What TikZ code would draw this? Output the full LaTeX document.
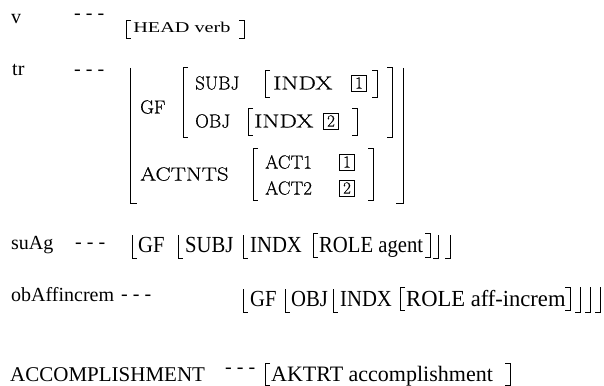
\documentclass[tikz,border=0pt]{standalone}
\usepackage{fontspec}
\setmainfont{Liberation Serif}
\newfontfamily\cmfont[FakeBold=0.5]{Latin Modern Roman}
% bracket pieces: x, top y, bottom y
\newcommand\avmL[3]{\draw[brk] (#1+5,#2) -- (#1,#2) -- (#1,#3) -- (#1+5,#3);}
\newcommand\avmR[3]{\draw[brk] (#1-5,#2) -- (#1,#2) -- (#1,#3) -- (#1-5,#3);}
\newcommand\avmLh[3]{\draw[brk] (#1,#2) -- (#1,#3) -- (#1+5,#3);}
\newcommand\avmRh[3]{\draw[brk] (#1,#2) -- (#1,#3) -- (#1-5,#3);}
\begin{document}
\begin{tikzpicture}[x=1pt,y=-1pt,
  lbl/.style={anchor=base west,inner sep=0pt,font=\fontsize{20}{24}\selectfont},
  avm/.style={anchor=base west,inner sep=0pt,font=\fontsize{23}{27}\selectfont,xscale=0.9,transform shape},
  cmtext/.style={anchor=west,inner sep=0pt,font=\cmfont\fontsize{19}{22}\selectfont},
  wide/.style={xscale=#1,transform shape},
  brk/.style={line width=0.8pt},
  tag/.style={draw,line width=0.7pt,inner sep=0pt,minimum width=15pt,minimum height=16pt,font=\cmfont\fontsize{17}{19}\selectfont}
]
\useasboundingbox (0,0) rectangle (604,385);

% v
\node[lbl] (v) at (11,24) {v};
\node[lbl] (d1) at (74,20) {- - -};
\avmL{126}{20}{38}
\node[lbl,font=\fontsize{15}{18}\selectfont,xscale=1.35,transform shape] (head) at (133,33) {HEAD verb};
\avmR{244}{20}{38}

% tr
\node[lbl] (tr) at (12,76) {tr};
\node[lbl] (d2) at (74,76) {- - -};
\draw[brk] (130,68) -- (130,203) -- (137,203);
\draw[brk] (403,68) -- (403,203) -- (396,203);
\node[cmtext] (gf) at (140,107) {GF};
\avmL{183}{67}{137}
\avmR{392}{67}{137}
\node[cmtext] (subj) at (195,83) {SUBJ};
\avmL{265}{70}{97}
\node[cmtext,wide=1.3] (indx1) at (273,83) {INDX};
\node[tag] (t1) at (359,83) {1};
\avmR{377}{70}{97}
\node[cmtext] (obj) at (195,121) {OBJ};
\avmL{248}{108}{135}
\node[cmtext,wide=1.3] (indx2) at (254,121) {INDX};
\node[tag] (t2) at (331,121) {2};
\avmR{357}{108}{135}
\node[cmtext,wide=1.2] (actnts) at (140,174) {ACTNTS};
\avmL{253}{148}{200}
\node[cmtext] (act1) at (265,162) {ACT1};
\node[tag] (t3) at (347,162) {1};
\node[cmtext] (act2) at (265,188) {ACT2};
\node[tag] (t4) at (347,188) {2};
\avmR{373}{148}{200}

% suAg
\node[lbl] (suag) at (11,249) {suAg};
\node[lbl] (d3) at (75,248) {- - -};
\avmLh{132}{235}{258}
\node[avm] (gf3) at (138,252) {GF};
\avmLh{178}{235}{258}
\node[avm] (subj3) at (185,252) {SUBJ};
\avmLh{243}{235}{258}
\node[avm] (indx3) at (250,252) {INDX};
\avmL{313}{233}{257}
\node[avm] (role3) at (319,252) {ROLE agent};
\avmR{430}{233}{257}
\avmRh{438}{235}{258}
\avmRh{450}{235}{258}

% obAffincrem
\node[lbl] (obaff) at (11,301) {obAffincrem};
\node[lbl] (d4) at (121,300) {- - -};
\avmLh{243}{289}{312}
\node[avm] (gf4) at (250,306) {GF};
\avmLh{285}{289}{312}
\node[avm] (obj4) at (291,306) {OBJ};
\avmLh{333}{289}{312}
\node[avm] (indx4) at (340,306) {INDX};
\avmL{400}{287}{310}
\node[avm,xscale=1.09] (role4) at (406,306) {ROLE aff-increm};
\avmR{570}{287}{310}
\avmRh{580}{287}{312}
\avmRh{590}{287}{312}
\avmRh{600}{287}{312}

% ACCOMPLISHMENT
\node[lbl,font=\fontsize{21}{25}\selectfont] (acc) at (10,381) {ACCOMPLISHMENT};
\node[lbl] (d5) at (225,373) {- - -};
\avmL{265}{363}{385}
\node[lbl,font=\fontsize{22}{26}\selectfont] (aktrt) at (271,381) {AKTRT accomplishment};
\avmR{510}{363}{385}
\end{tikzpicture}
\end{document}
